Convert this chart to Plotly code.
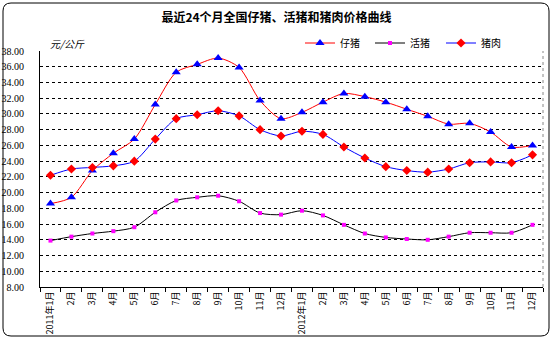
import plotly.graph_objects as go

# Monthly categories (Jan 2011 – Dec 2012)
months = ["2011年1月", "2月", "3月", "4月", "5月", "6月", "7月", "8月", "9月", "10月", "11月", "12月",
          "2012年1月", "2月", "3月", "4月", "5月", "6月", "7月", "8月", "9月", "10月", "11月", "12月"]
# Category keys must be unique, so repeated month names get an invisible suffix
cats = [m if i <= 12 else m + "\u200b" for i, m in enumerate(months)]

piglet = [18.6, 19.4, 22.8, 25.0, 26.8, 31.2, 35.3, 36.3, 37.1, 35.9, 31.7, 29.4,
          30.2, 31.5, 32.6, 32.2, 31.5, 30.6, 29.7, 28.7, 28.8, 27.7, 25.8, 26.0]
live_hog = [13.9, 14.4, 14.8, 15.1, 15.6, 17.5, 19.0, 19.4, 19.6, 18.9, 17.4, 17.2,
            17.7, 17.1, 15.9, 14.8, 14.3, 14.1, 14.0, 14.4, 14.9, 14.9, 14.9, 15.9]
pork = [22.2, 23.0, 23.2, 23.4, 24.0, 26.8, 29.4, 29.9, 30.4, 29.75, 28.0, 27.2,
        27.8, 27.4, 25.8, 24.4, 23.3, 22.8, 22.6, 23.0, 23.8, 23.9, 23.8, 24.8]

y_ticks = [8 + 2 * k for k in range(16)]
y_labels = [f"{v:.2f}" for v in y_ticks]

FONT = "Noto Sans CJK SC"
W, H = 553, 340
L, R, T, B = 40, 10, 51, 53
pw, ph = W - L - R, H - T - B

def px_to_paper(x, y):
    return (x - L) / pw, (H - B - y) / ph

fig = go.Figure()
fig.add_trace(go.Scatter(
    x=cats, y=piglet, name="仔猪", mode="lines+markers", legend="legend",
    line=dict(color="#FF0000", width=1, shape="spline", smoothing=0.8),
    marker=dict(symbol="triangle-up", size=8, color="#0000FF"),
))
fig.add_trace(go.Scatter(
    x=cats, y=live_hog, name="活猪", mode="lines+markers", legend="legend2",
    line=dict(color="#000000", width=1, shape="spline", smoothing=0.8),
    marker=dict(symbol="square", size=4, color="#FF00FF"),
))
fig.add_trace(go.Scatter(
    x=cats, y=pork, name="猪肉", mode="lines+markers", legend="legend3",
    line=dict(color="#0000FF", width=1, shape="spline", smoothing=0.8),
    marker=dict(symbol="diamond", size=7, color="#FF0000"),
))

# Rounded outer frame around the whole chart
x0, y0 = px_to_paper(3, 3)
x1, y1 = px_to_paper(549, 336)
rx, ry = 8 / pw, 8 / ph
frame = (f"M {x0 + rx} {y0} L {x1 - rx} {y0} Q {x1} {y0} {x1} {y0 - ry} "
         f"L {x1} {y1 + ry} Q {x1} {y1} {x1 - rx} {y1} "
         f"L {x0 + rx} {y1} Q {x0} {y1} {x0} {y1 + ry} "
         f"L {x0} {y0 - ry} Q {x0} {y0} {x0 + rx} {y0} Z")

def legend_at(px):
    return dict(orientation="h", xref="container", yref="container",
                x=px / W, xanchor="left", y=1 - 43 / H, yanchor="middle",
                itemwidth=30, bgcolor="rgba(0,0,0,0)",
                font=dict(size=10, family=FONT))

fig.update_layout(
    width=W, height=H,
    margin=dict(l=L, r=R, t=T, b=B, autoexpand=False),
    paper_bgcolor="white", plot_bgcolor="white",
    font=dict(family=FONT, size=10, color="black"),
    title=dict(text="<b>最近24个月全国仔猪、活猪和猪肉价格曲线</b>",
               x=0.5, xanchor="center", y=1 - 18 / H, yanchor="middle",
               font=dict(size=12, family=FONT)),
    showlegend=True,
    legend=legend_at(300),
    legend2=legend_at(370),
    legend3=legend_at(441),
    xaxis=dict(type="category", categoryorder="array", categoryarray=cats,
               tickmode="array", tickvals=cats, ticktext=months,
               tickson="boundaries", ticks="outside", ticklen=4, tickcolor="black",
               tickangle=-90, showgrid=False, showline=True, linecolor="black",
               linewidth=1, tickfont=dict(size=9, family=FONT), zeroline=False,
               range=[-0.5, 23.5], automargin=False),
    yaxis=dict(range=[8, 38], tickmode="array", tickvals=y_ticks, ticktext=y_labels,
               showgrid=True, gridcolor="black", gridwidth=1, griddash="3px,3px",
               showline=True, linecolor="black", linewidth=1, ticks="",
               ticklabelstandoff=13, zeroline=False, automargin=False,
               tickfont=dict(size=10, family="Liberation Serif")),
    shapes=[
        dict(type="path", xref="paper", yref="paper", path=frame,
             line=dict(color="black", width=1), fillcolor="rgba(0,0,0,0)", layer="below"),
        dict(type="line", xref="paper", yref="paper", x0=1, x1=1, y0=0, y1=1,
             line=dict(color="#888888", width=1, dash="dot")),
    ],
    annotations=[
        dict(text="<i>元/公斤</i>", xref="paper", yref="paper",
             x=px_to_paper(48, 0)[0], y=px_to_paper(0, 43)[1],
             xanchor="left", yanchor="middle", showarrow=False,
             font=dict(size=10, family=FONT)),
    ],
)

fig.write_html("out.html")
